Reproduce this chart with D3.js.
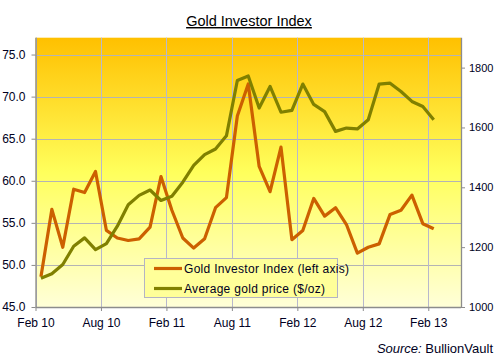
<!DOCTYPE html>
<html>
<head>
<meta charset="utf-8">
<script src="https://cdn.jsdelivr.net/npm/d3@7"></script>
<style>
  html, body { margin: 0; padding: 0; background: #ffffff; }
  svg { display: block; font-family: "Liberation Sans", Arial, sans-serif; }
</style>
</head>
<body>
<svg id="chart" width="499" height="357"></svg>
<script>
// ---- data ----
const months = [
  "Feb 10","Mar 10","Apr 10","May 10","Jun 10","Jul 10","Aug 10","Sep 10","Oct 10","Nov 10","Dec 10","Jan 11",
  "Feb 11","Mar 11","Apr 11","May 11","Jun 11","Jul 11","Aug 11","Sep 11","Oct 11","Nov 11","Dec 11","Jan 12",
  "Feb 12","Mar 12","Apr 12","May 12","Jun 12","Jul 12","Aug 12","Sep 12","Oct 12","Nov 12","Dec 12","Jan 13",
  "Feb 13"
];
const investorIndex = [
  48.6, 56.6, 52.1, 59.0, 58.6, 61.1, 54.1, 53.2, 52.9, 53.1, 54.5, 60.5,
  56.5, 53.2, 52.0, 53.1, 56.8, 58.0, 67.7, 71.5, 61.7, 58.7, 64.0, 53.0,
  54.1, 57.9, 55.8, 56.8, 54.8, 51.4, 52.1, 52.5, 56.0, 56.5, 58.3, 54.9,
  54.3
];
const goldPrice = [
  1096, 1111, 1142, 1203, 1231, 1192, 1212, 1270, 1342, 1373, 1391, 1356,
  1370, 1417, 1473, 1509, 1528, 1572, 1757, 1772, 1665, 1737, 1651, 1657,
  1745, 1677, 1653, 1587, 1598, 1595, 1626, 1745, 1748, 1720, 1687, 1670,
  1626
];
const xTickLabels = ["Feb 10","Aug 10","Feb 11","Aug 11","Feb 12","Aug 12","Feb 13"];
const leftTicks = [45, 50, 55, 60, 65, 70, 75];
const rightTicks = [1000, 1200, 1400, 1600, 1800];
const seriesNames = ["Gold Investor Index (left axis)", "Average gold price ($/oz)"];

// ---- layout ----
const svg = d3.select("#chart");
const L = 35.5, R = 461, T = 37.7, B = 307;
const colIndex = "#cc6000", colGold = "#808000";

const x = d3.scaleLinear().domain([0, 39]).range([L, R]);
const yL = d3.scaleLinear().domain([45, 77]).range([B, T]);
const yR = d3.scaleLinear().domain([1000, 1900]).range([B, T]);

// background gradient
const defs = svg.append("defs");
const grad = defs.append("linearGradient").attr("id", "bg")
  .attr("x1", 0).attr("y1", 0).attr("x2", 0).attr("y2", 1);
grad.append("stop").attr("offset", "0%").attr("stop-color", "#ffc000");
grad.append("stop").attr("offset", "50%").attr("stop-color", "#ffff5c");
grad.append("stop").attr("offset", "100%").attr("stop-color", "#ffffd8");

svg.append("rect").attr("x", L).attr("y", T).attr("width", R - L).attr("height", B - T)
  .attr("fill", "url(#bg)");

// gridlines
const grid = svg.append("g");
grid.selectAll("line.h").data(leftTicks.slice(1)).join("line")
  .attr("x1", L).attr("x2", R)
  .attr("y1", d => Math.round(yL(d)) + 0.5).attr("y2", d => Math.round(yL(d)) + 0.5)
  .attr("stroke", "#b4b4b4").attr("stroke-width", 1);
grid.selectAll("line.v").data(xTickLabels.map((d, i) => i * 6)).join("line")
  .attr("y1", T).attr("y2", B)
  .attr("x1", d => Math.round(x(d)) + 0.5).attr("x2", d => Math.round(x(d)) + 0.5)
  .attr("stroke", "#b8b8cc").attr("stroke-width", 1);

// axes
const axisColor = "#8c8c8c";
const xAxis = d3.axisBottom(x).tickValues(xTickLabels.map((d, i) => i * 6))
  .tickFormat((d, i) => xTickLabels[i]).tickSize(4).tickSizeOuter(0);
const gx = svg.append("g").attr("transform", `translate(0,${B})`).call(xAxis);
const yAxisL = d3.axisLeft(yL).tickValues(leftTicks).tickFormat(d3.format(".1f")).tickSize(4).tickSizeOuter(0);
const gl = svg.append("g").attr("transform", `translate(${L},0)`).call(yAxisL);
const yAxisR = d3.axisRight(yR).tickValues(rightTicks).tickFormat(d3.format("d")).tickSize(4).tickSizeOuter(0);
const gr = svg.append("g").attr("transform", `translate(${R},0)`).call(yAxisR);
[gx, gl, gr].forEach(g => {
  g.select(".domain").attr("stroke", axisColor).attr("stroke-width", 1.3);
  g.selectAll(".tick line").attr("stroke", axisColor);
  g.selectAll("text").attr("fill", "#000022")
    .attr("font-family", "'Liberation Sans', Arial, sans-serif").attr("font-size", 12);
});
gx.selectAll("text").attr("dy", "1.1em");
gl.selectAll("text").attr("x", -10);
gr.selectAll("text").attr("x", 8).attr("font-size", 11);
// extend domain paths so they meet
gl.select(".domain").attr("d", `M0.5,${T}V${B}`);
gr.select(".domain").attr("d", `M0.5,${T}V${B}`);
gx.select(".domain").attr("d", `M${L},0.5H${R}`);

// lines
const lineIdx = d3.line().x((d, i) => x(i + 0.5)).y(d => yL(d));
const lineGold = d3.line().x((d, i) => x(i + 0.5)).y(d => yR(d));
svg.append("path").datum(investorIndex).attr("d", lineIdx)
  .attr("fill", "none").attr("stroke", colIndex).attr("stroke-width", 3.2)
  .attr("stroke-linejoin", "round");
svg.append("path").datum(goldPrice).attr("d", lineGold)
  .attr("fill", "none").attr("stroke", colGold).attr("stroke-width", 3.2)
  .attr("stroke-linejoin", "round");

// legend
const lg = svg.append("g");
lg.append("rect").attr("x", 144.5).attr("y", 258.5).attr("width", 193).attr("height", 39)
  .attr("fill", "#ffff99").attr("stroke", "#b4b4c4").attr("stroke-width", 1);
const legendRows = [
  { name: seriesNames[0], color: colIndex, y: 268.5 },
  { name: seriesNames[1], color: colGold, y: 288.5 }
];
legendRows.forEach(r => {
  lg.append("line").attr("x1", 154).attr("x2", 182).attr("y1", r.y).attr("y2", r.y)
    .attr("stroke", r.color).attr("stroke-width", 3.2);
  lg.append("text").attr("x", 184).attr("y", r.y + 4.3).text(r.name)
    .attr("font-size", 12).attr("fill", "#000022").attr("letter-spacing", 0.3);
});

// title
svg.append("text").attr("x", 249).attr("y", 26).attr("text-anchor", "middle")
  .attr("font-size", 14.5).attr("fill", "#000000")
  .attr("text-decoration", "underline").text("Gold Investor Index");

// source
const src = svg.append("text").attr("x", 493).attr("y", 352.5).attr("text-anchor", "end")
  .attr("font-size", 13).attr("fill", "#000022");
src.append("tspan").attr("font-style", "italic").text("Source:");
src.append("tspan").text(" BullionVault");
</script>
</body>
</html>
